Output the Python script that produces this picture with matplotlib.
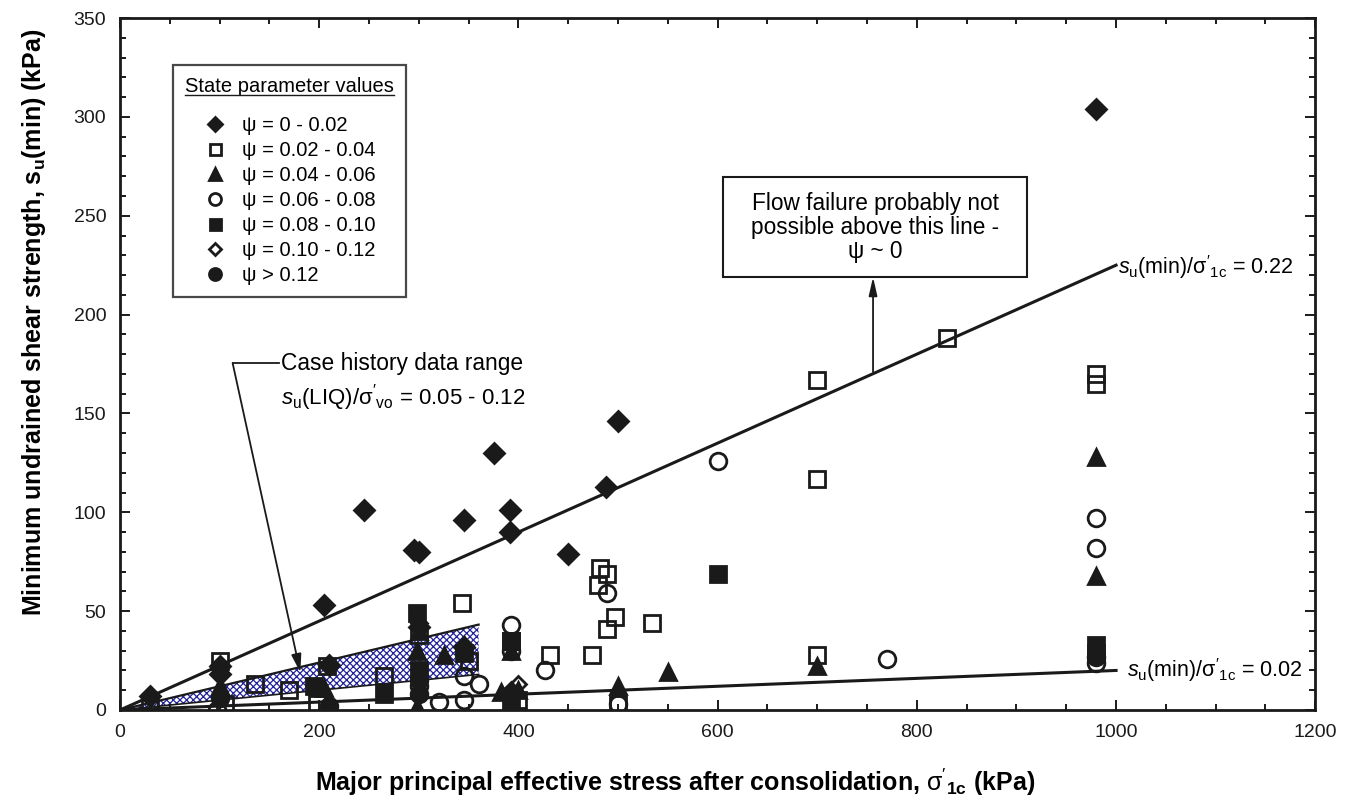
import numpy as np
import matplotlib.pyplot as plt
from matplotlib.patches import Rectangle
from matplotlib.lines import Line2D

plt.rcParams['font.family'] = ['Liberation Sans', 'DejaVu Sans']
plt.rcParams['mathtext.fontset'] = 'custom'
plt.rcParams['mathtext.rm'] = 'Liberation Sans'
plt.rcParams['mathtext.it'] = 'Liberation Sans:italic'
plt.rcParams['mathtext.bf'] = 'Liberation Sans:bold'
plt.rcParams['hatch.linewidth'] = 0.9

# --- data (kPa) ---
psi_a_x = [30, 100, 100, 205, 210, 245, 295, 300, 300, 345, 345, 375, 392, 392, 450, 488, 500, 980]
psi_a_y = [7, 22, 18, 53, 23, 101, 81, 80, 42, 96, 32, 130, 101, 90, 79, 113, 146, 304]

psi_b_x = [30, 100, 105, 135, 170, 198, 208, 265, 300, 343, 350, 393, 400, 432, 474, 480, 482, 489,
           489, 497, 500, 534, 700, 700, 700, 830, 980, 980]
psi_b_y = [1, 25, 3, 13, 10, 3, 22, 17, 38, 54, 25, 35, 5, 28, 28, 63, 72, 69,
           41, 47, 3, 44, 167, 117, 28, 188, 170, 165]

psi_c_x = [100, 205, 298, 298, 300, 325, 345, 382, 393, 400, 500, 550, 700, 980, 980]
psi_c_y = [12, 11, 1.5, 30, 40, 28, 33, 9, 30, 10, 12, 19, 22, 128, 68]

psi_d_x = [97, 300, 320, 345, 345, 360, 393, 393, 427, 489, 500, 600, 770, 980, 980, 980]
psi_d_y = [0, 12, 4, 5, 17, 13, 43, 30, 20, 59, 3, 126, 26, 97, 82, 24]

psi_e_x = [195, 265, 298, 300, 345, 393, 393, 600, 980, 980]
psi_e_y = [12, 8, 49, 20, 29, 35, 4, 69, 33, 29]

psi_f_x = [300, 393, 400]
psi_f_y = [44, 10, 13]

psi_g_x = [100, 210, 300, 300, 393, 980]
psi_g_y = [6, 2, 8, 15, 8, 27]

labels = ['\u03c8 = 0 - 0.02', '\u03c8 = 0.02 - 0.04', '\u03c8 = 0.04 - 0.06', '\u03c8 = 0.06 - 0.08',
          '\u03c8 = 0.08 - 0.10', '\u03c8 = 0.10 - 0.12', '\u03c8 > 0.12']

# bounding lines and case-history band
line_x = [0, 1000]
upper_ratio = 0.225
lower_ratio = 0.02
band_x = [0, 360]
band_lo, band_hi = 0.05, 0.12

ink = '#1a1a1a'
ratio_lbl = "$s_{\\mathrm{u}}$(min)/$\\mathrm{\\sigma}'_{\\mathrm{1c}}$ = "

fig = plt.figure(figsize=(13.49, 7.99), dpi=100)
ax = fig.add_axes([0.089, 0.1114, 0.886, 0.866])

bx = np.array(band_x, dtype=float)
ax.fill_between(bx, band_lo * bx, band_hi * bx, facecolor='white', edgecolor='#23239a',
                hatch='xxxxx', linewidth=0, zorder=1)
ax.plot(bx, band_hi * bx, color=ink, lw=1.6, zorder=2)
ax.plot(bx, band_lo * bx, color=ink, lw=1.2, zorder=2)

lx = np.array(line_x, dtype=float)
ax.plot(lx, upper_ratio * lx, color=ink, lw=2.2, zorder=2)
ax.plot(lx, lower_ratio * lx, color=ink, lw=2.2, zorder=2)

styles = [
    (psi_a_x, psi_a_y, 'D', ink, 10),
    (psi_b_x, psi_b_y, 's', 'none', 11),
    (psi_c_x, psi_c_y, '^', ink, 12),
    (psi_d_x, psi_d_y, 'o', 'none', 12),
    (psi_e_x, psi_e_y, 's', ink, 11),
    (psi_f_x, psi_f_y, 'D', 'none', 8),
    (psi_g_x, psi_g_y, 'o', ink, 12),
]
handles = []
for (xs, ys, m, fc, ms), lab in zip(styles, labels):
    h, = ax.plot(xs, ys, ls='none', marker=m, ms=ms, mfc=fc, mec=ink, mew=2.0, label=lab, zorder=3)
    handles.append(h)

ax.set_xlim(0, 1200)
ax.set_ylim(0, 350)
ax.set_xticks(np.arange(0, 1201, 200))
ax.set_xticks(np.arange(0, 1201, 50), minor=True)
ax.set_yticks(np.arange(0, 351, 50))
ax.set_yticks(np.arange(0, 351, 10), minor=True)
ax.tick_params(which='both', direction='in', top=True, right=True, width=1.4, colors=ink,
               labelsize=14, pad=10)
ax.tick_params(which='major', length=7)
ax.tick_params(which='minor', length=4.5)
for s in ax.spines.values():
    s.set_linewidth(2)
    s.set_color(ink)

lab_font = dict(family=['Liberation Sans Narrow', 'Liberation Sans'], weight='bold', size=18)
ax.set_xlabel("Major principal effective stress after consolidation, $\\mathrm{\\sigma}'_{\\mathbf{1c}}$ (kPa)",
              **lab_font)
ax.set_ylabel("Minimum undrained shear strength, $\\mathbf{s}_{\\mathbf{u}}$(min) (kPa)", **lab_font)
ax.xaxis.set_label_coords(0.464, -0.082)
ax.yaxis.set_label_coords(-0.06, 0.56)

# line labels
ax.text(1002, 224, ratio_lbl + '0.22', fontsize=15.5, va='center', ha='left')
ax.text(1011, 20, ratio_lbl + '0.02', fontsize=15.5, va='center', ha='left')

# case history annotation
ax.plot([160, 113], [175.5, 175.5], color=ink, lw=1.3)
ax.annotate('', xy=(181, 19), xytext=(113, 175.5),
            arrowprops=dict(arrowstyle='-|>,head_length=1.1,head_width=0.3', color=ink, lw=1.3,
                            shrinkA=0, shrinkB=0))
ax.text(162, 175.5, 'Case history data range', fontsize=16.4, va='center', ha='left')
ax.text(162, 158, "$s_{\\mathrm{u}}$(LIQ)/$\\mathrm{\\sigma}'_{\\mathrm{vo}}$ = 0.05 - 0.12", fontsize=16,
        va='center', ha='left')

# flow failure box
ax.add_patch(Rectangle((605.5, 219), 305.5, 50.6, facecolor='white', edgecolor=ink, lw=1.5, zorder=4))
ax.text(758, 244, 'Flow failure probably not\npossible above this line -\n\u03c8 ~ 0', fontsize=16.3,
        ha='center', va='center', linespacing=1.05, zorder=5)
ax.annotate('', xy=(756, 219), xytext=(756, 171),
            arrowprops=dict(arrowstyle='-|>,head_length=1.1,head_width=0.25', color=ink, lw=1.3,
                            shrinkA=0, shrinkB=0))

leg = ax.legend(handles=handles, loc='upper left', bbox_to_anchor=(0.0444, 0.932), title='State parameter values',
                fontsize=14.5, title_fontsize=14.5, frameon=True, fancybox=False, borderaxespad=0,
                handlelength=1.2, handletextpad=0.75, labelspacing=0.3, markerscale=0.72, borderpad=0.6,
                alignment='center')
leg.get_frame().set_edgecolor(ink)
leg.get_frame().set_linewidth(1.6)
leg._legend_box.sep = 14

fig.canvas.draw()
tb = leg.get_title().get_window_extent(fig.canvas.get_renderer())
inv = fig.transFigure.inverted()
(x0, y0), (x1, _) = inv.transform([(tb.x0, tb.y0 + 1), (tb.x1, tb.y0 + 1)])
fig.add_artist(Line2D([x0, x1], [y0, y0], color=ink, lw=1.0))

fig.savefig('out.png', dpi=100)
